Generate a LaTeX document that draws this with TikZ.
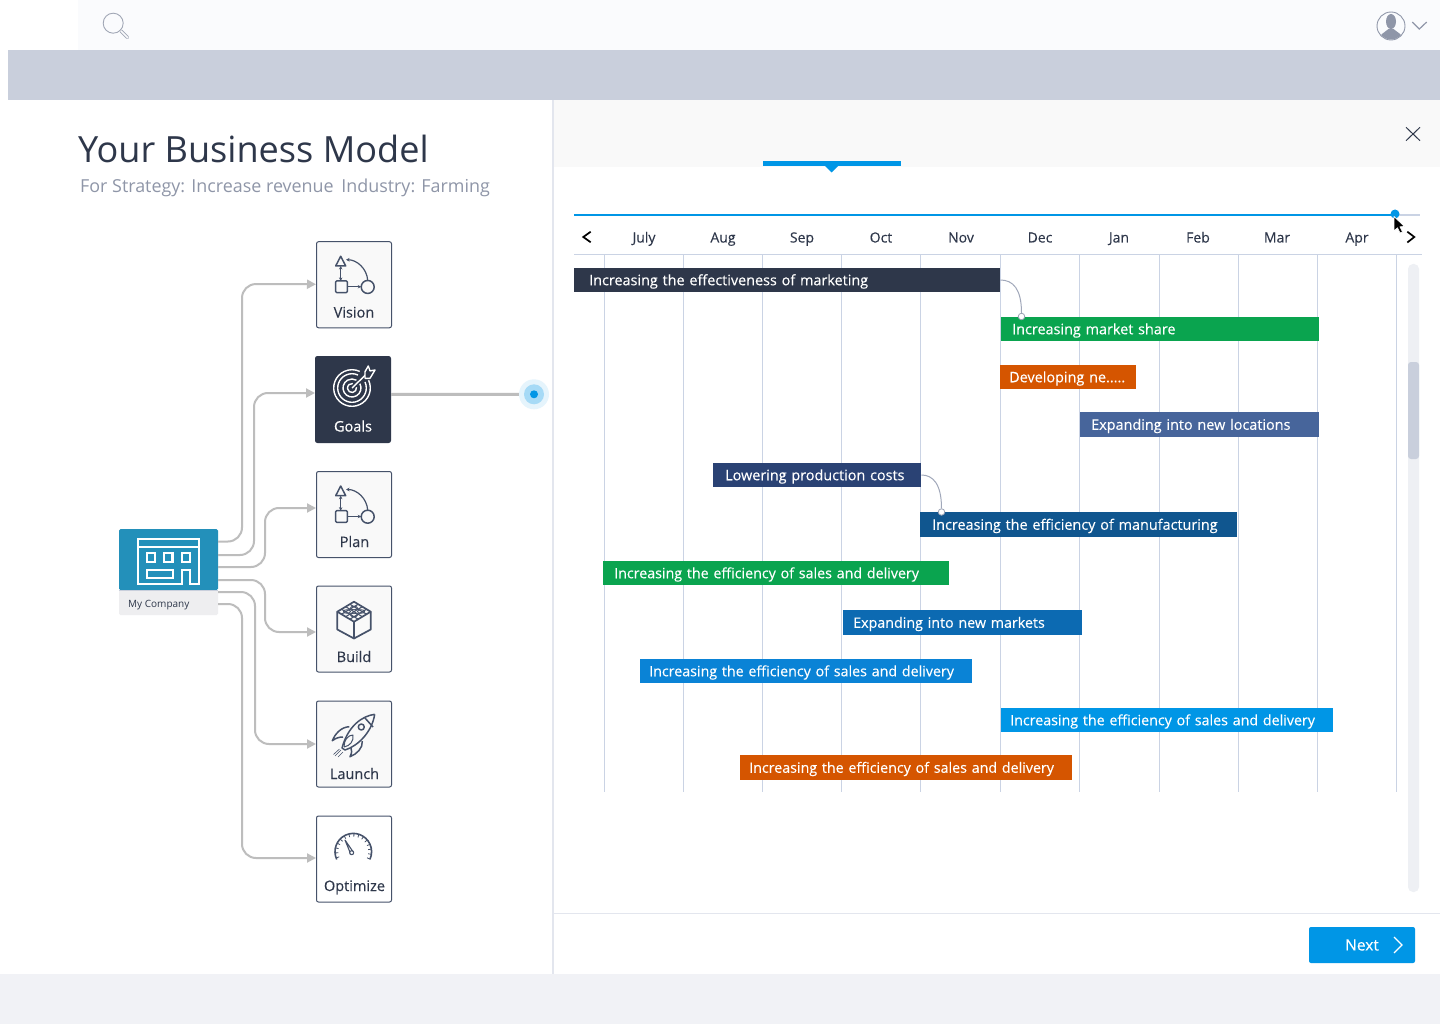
\documentclass[tikz,border=0pt]{standalone}
\usepackage{fontspec}
\setmainfont{Open Sans}
\newfontfamily\uifont[FakeBold=0.2]{Open Sans}
\usetikzlibrary{arrows.meta,calc}
\definecolor{inkc}{HTML}{2E374A}
\definecolor{iconc}{HTML}{46526A}
\definecolor{bandc}{HTML}{C9CFDC}
\definecolor{topc}{HTML}{FAFBFD}
\definecolor{footc}{HTML}{F1F2F6}
\definecolor{tagc}{HTML}{EEEEF0}
\definecolor{headc}{HTML}{F9F9F9}
\definecolor{panelc}{HTML}{E3E6EE}
\definecolor{flowc}{HTML}{BDBDBD}
\definecolor{skyc}{HTML}{0096E6}
\definecolor{gridc}{HTML}{CAD3E4}
\definecolor{softc}{HTML}{8F96A8}
\definecolor{greenc}{HTML}{0AA44F}
\definecolor{orangec}{HTML}{D55500}
\definecolor{steelc}{HTML}{47659B}
\definecolor{navyc}{HTML}{2A4274}
\definecolor{oceanc}{HTML}{10568F}
\definecolor{royalc}{HTML}{0C6AB2}
\definecolor{azurec}{HTML}{0A83D6}
\definecolor{tealc}{HTML}{2390BA}
\tikzset{
  flow/.style={draw=flowc, line width=2pt, rounded corners=14pt, -{Triangle[length=9pt,width=9pt]}},
  stagebox/.style={draw=iconc, fill=headc, line width=1pt, rounded corners=2pt, minimum width=75pt, minimum height=86pt, inner sep=0pt},
  stagetxt/.style={anchor=base, inner sep=0pt, text=inkc, font=\uifont\fontsize{14.5}{17}\selectfont},
  monthtxt/.style={anchor=base, inner sep=0pt, text=inkc, font=\uifont\fontsize{14}{17}\selectfont},
  taskbar/.style n args={3}{anchor=west, fill=#1, text=white, inner xsep=0pt, inner ysep=0pt, text width=#2pt, align=left,
    minimum height=24.5pt, text height=12.5pt, text depth=2pt, font=\uifont\fontsize{14.4}{17}\selectfont, execute at begin node={\hspace*{#3pt}}},
  salestxt/.style={font=\uifont\fontsize{14.26}{17}\selectfont},
  taskdot/.style={circle, draw=softc!80!gridc, fill=white, line width=.8pt, inner sep=0pt, minimum size=6.5pt},
  tasklink/.style={draw=softc!70!gridc, line width=1pt},
  gridline/.style={draw=gridc, line width=1pt},
  iconline/.style={draw=iconc, line width=1.5pt, line join=round},
  whiteline/.style={draw=white, line width=1.4pt},
  officeline/.style={draw=white, line width=2.3pt},
  >={Stealth[length=3.5pt,width=3.5pt]},
  flowicon/.pic={
    \draw[iconline] (-13.3,-28.5) -- (-8.3,-18.8) -- (-18.3,-18.8) -- cycle;
    \draw[iconline, rounded corners=1pt] (-18.3,-3.8) rectangle (-6.7,7.8);
    \draw[iconline] (13.7,2.2) circle[radius=6.5];
    \draw[iconline, line width=1.2pt, <->] (-13.3,-18.8) -- (-13.3,-3.8);
    \draw[iconline, line width=1.2pt, ->] (-6.7,2) -- (7.2,2);
    \draw[iconline, line width=1.2pt, ->] (13.7,-4.3) .. controls (13,-16) and (3,-25) .. (-8,-25);
  },
  targeticon/.pic={
    \draw[whiteline] (-1,-11.5) ++(-25:18.3) arc[start angle=-25, end angle=295, radius=18.3];
    \draw[whiteline] (-1,-11.5) ++(-25:14.3) arc[start angle=-25, end angle=295, radius=14.3];
    \draw[whiteline] (-1,-11.5) ++(-30:9) arc[start angle=-30, end angle=300, radius=9];
    \draw[whiteline] (-1,-11.5) ++(-10:4.5) arc[start angle=-10, end angle=280, radius=4.5];
    \draw[draw=inkc, line width=4pt] (-1,-11.5) -- (13.5,-25.5);
    \draw[whiteline] (-1,-11.5) -- (13.5,-25.5);
    \draw[whiteline, fill=inkc, line join=round] (12,-27.8) -- (15.3,-33.5) -- (17,-28.6) -- (22,-29.5) -- (17,-21.2) -- (12,-21.2) -- cycle;
  },
  cubeicon/.pic={
    \draw[iconline, line width=1.7pt] (0,-27.3) -- (16.7,-17.3) -- (0,-7.3) -- (-16.7,-17.3) -- cycle;
    \draw[iconline, line width=1.7pt] (-16.7,-17.3) -- (-16.7,0.5) -- (0,9.5) -- (16.7,0.5) -- (16.7,-17.3);
    \draw[iconline, line width=1.7pt] (0,-7.3) -- (0,9.5);
    \foreach \t in {.25,.5,.75} {
      \draw[iconline, line width=1.1pt] ($(0,-27.3)!\t!(16.7,-17.3)$) -- ($(-16.7,-17.3)!\t!(0,-7.3)$);
      \draw[iconline, line width=1.1pt] ($(0,-27.3)!\t!(-16.7,-17.3)$) -- ($(16.7,-17.3)!\t!(0,-7.3)$);
    }
    \draw[iconline, line width=.9pt] (0,-21) ellipse[x radius=3.5, y radius=1.8];
    \draw[iconline, line width=.9pt] (0,-14) ellipse[x radius=3.5, y radius=1.8];
    \draw[iconline, line width=.9pt] (-7,-17.5) ellipse[x radius=3.5, y radius=1.8];
    \draw[iconline, line width=.9pt] (7,-17.5) ellipse[x radius=3.5, y radius=1.8];
  },
  rocketicon/.pic={
    \draw[iconline] (20.7,-29.7) .. controls (8,-28) and (-6,-18) .. (-12,4) -- (-9,6) .. controls (4,2) and (18,-12) .. (20.7,-29.7);
    \draw[iconline] (11,-26) -- (19,-17);
    \draw[iconline] (7.3,-17) circle[radius=3];
    \draw[iconline] (-4.7,-17.3) .. controls (-13,-17) and (-19,-10) .. (-21.7,-3.3) .. controls (-18,-6) and (-15,-7) .. (-11,-7);
    \draw[iconline] (8.3,-3) .. controls (9,4) and (3,10) .. (-4,12.7) .. controls (-2,9) and (-2,6) .. (-3,4);
    \draw[iconline, line width=1pt] (-10,3) .. controls (-10,-4) and (-6,-9) .. (-1,-9) .. controls (0,-3) and (-4,2) .. (-10,3);
    \draw[iconline, line width=.6pt] (-13,6) -- (-19,12) (-11,8) -- (-16,13) (-14.5,5) -- (-20.5,10.5);
  },
  gaugeicon/.pic={
    \draw[iconline, line width=1.6pt] (-0.7,-7.3) ++(155:18.3) arc[start angle=155, end angle=385, radius=18.3];
    \foreach \a in {160,176,...,385}
      \draw[iconline, line width=.8pt] (-0.7,-7.3) ++(\a:15) -- ++(\a:3);
    \draw[iconline, fill=white, line width=1.1pt] (-1,-7.3) -- (-9,-19) -- (-3.5,-5.5) -- cycle;
    \draw[iconline, fill=white, line width=1.1pt] (-2.3,-6.3) circle[radius=2];
  },
  officeicon/.pic={
    \draw[officeline] (181.7,584) -- (138.3,584) -- (138.3,539) -- (199.3,539) -- (199.3,584) -- (190,584) -- (190,570) -- (181.7,570) -- cycle;
    \draw[officeline] (138.3,547.3) -- (199.3,547.3);
    \foreach \x in {146.7,164,181.7}
      \draw[officeline] (\x,553.3) rectangle ++(8.5,9);
    \draw[officeline] (146.7,570) rectangle (172.7,578.3);
  }
}
\begin{document}
\begin{tikzpicture}[x=1pt, y=-1pt]
\useasboundingbox (0,0) rectangle (1440,1024);
\fill[white] (0,0) rectangle (1440,1024);
\fill[topc] (78,0) rectangle (1440,50);
\fill[bandc] (8,50) rectangle (1440,100);
\fill[footc] (0,974) rectangle (1440,1024);
\fill[headc] (554,100) rectangle (1440,167);
\fill[panelc] (552,100) rectangle (554,974);
\fill[panelc] (554,913) rectangle (1440,914);

\draw[softc!85!white, line width=.9pt] (113.2,23.2) circle[radius=10];
\draw[softc!85!white, line width=3.2pt, line cap=round] (121,31) -- (127.5,37.5);
\draw[topc, line width=1.6pt, line cap=round] (121,31) -- (127.5,37.5);
\begin{scope}
\clip (1391,26) circle[radius=13.5];
\fill[softc] (1391,21.5) ellipse[x radius=5, y radius=7.5];
\fill[softc] (1378,42) .. controls (1379,34) and (1384,33) .. (1388.5,29) -- (1393.5,29) .. controls (1398,33) and (1403,34) .. (1404,42) -- cycle;
\end{scope}
\draw[softc, line width=.9pt] (1391,26) circle[radius=14];
\draw[softc, line width=1.2pt] (1412.3,22) -- (1419.3,29) -- (1426.7,22);

\node[anchor=base west, inner sep=0pt, text=inkc, font=\fontsize{36.1}{44}\selectfont] (title) at (78,163) {Your Business Model};
\node[anchor=base west, inner sep=0pt, text=softc, font=\fontsize{17.9}{23}\selectfont] (subtitle) at (80,192.5) {For Strategy: Increase revenue\hspace{3pt} Industry: Farming};

\node[stagebox] (vision) at (354,284.75) {};
\node[stagebox, fill=inkc, draw=inkc] (goals) at (353,399.5) {};
\node[stagebox] (plan) at (354,514.5) {};
\node[stagebox] (build) at (354,629) {};
\node[stagebox] (launch) at (354,744) {};
\node[stagebox, fill=white] (optimize) at (354,859) {};
\node[stagetxt] (visiontxt) at (354,317.5) {Vision};
\node[stagetxt, text=white] (goalstxt) at (353,431.5) {Goals};
\node[stagetxt] (plantxt) at (354.5,547) {Plan};
\node[stagetxt] (buildtxt) at (354,662) {Build};
\node[stagetxt] (launchtxt) at (354.5,779) {Launch};
\node[stagetxt] (optimizetxt) at (354.5,891) {Optimize};
\pic at (vision.center) {flowicon};
\pic at (goals.center) {targeticon};
\pic at (plan.center) {flowicon};
\pic at (build.center) {cubeicon};
\pic at (launch.center) {rocketicon};
\pic at (optimize.center) {gaugeicon};

\node[fill=tagc, rounded corners=1.5pt, minimum width=99pt, minimum height=25pt, inner sep=0pt] (companytag) at (168.5,602.5) {};
\node[fill=tealc, rounded corners=1.5pt, minimum width=99pt, minimum height=61pt, inner sep=0pt] (company) at (168.5,559.5) {};
\draw[bandc, line width=1pt] (company.south west) -- (company.south east);
\node[anchor=base west, inner sep=0pt, text=inkc, font=\fontsize{10}{12}\selectfont] (companytxt) at (128,607) {My Company};
\pic at (0,0) {officeicon};

\coordinate (o1) at (218,541.5);
\coordinate (o2) at (218,555);
\coordinate (o3) at (218,567);
\coordinate (o4) at (218,580);
\coordinate (o5) at (218,592);
\coordinate (o6) at (218,604);
\draw[flow] (o1) -- (242,541.5) -- (242,284) -- ([yshift=.5pt]vision.west);
\draw[flow] (o2) -- (254,555) -- (254,393) -- ([yshift=6.5pt]goals.west);
\draw[flow] (o3) -- (265,567) -- (265,508) -- ([yshift=6.5pt]plan.west);
\draw[flow] (o4) -- (265,580) -- (265,632) -- ([yshift=-3pt]build.west);
\draw[flow] (o5) -- (255,592) -- (255,744) -- (launch.west);
\draw[flow] (o6) -- (242,604) -- (242,858) -- ([yshift=1pt]optimize.west);

\node[circle, fill=skyc!10, minimum size=30pt, inner sep=0pt] (pulse) at (534,394.3) {};
\node[circle, fill=skyc!35, minimum size=20pt, inner sep=0pt] (pulsemid) at (534,394.3) {};
\node[circle, fill=skyc, minimum size=8pt, inner sep=0pt] (pulsecore) at (534,394.3) {};
\draw[flowc, line width=3pt] ([yshift=5pt]goals.east) -- (pulse.west);

\draw[inkc, line width=1pt] (1406,127.3) -- (1420,140.7) (1420,127.3) -- (1406,140.7);
\fill[skyc] (763,161) rectangle (901,166);
\fill[skyc] (825,166) -- (831.5,172.5) -- (838,166) -- cycle;

\draw[gridc, line width=2pt] (1395,215) -- (1420,215);
\draw[skyc, line width=2pt] (574,215) -- (1395,215);
\fill[skyc] (1395,214) circle[radius=4.5];
\draw[black, line width=1.7pt] (590.7,231.7) -- (583.3,237) -- (590.7,242.3);
\draw[gridline] (574,254.5) -- (1422,254.5);
\foreach \x/\m in {644/July,723/Aug,802/Sep,881/Oct,961/Nov,1040/Dec,1119/Jan,1198/Feb,1277/Mar,1357/Apr}
  \node[monthtxt] (\m) at (\x,242.5) {\m};
\foreach \x in {604.5,683.5,762.5,841.5,920.5,1000.5,1079.5,1159,1238,1317.5,1396.5}
  \draw[gridline] (\x,254.5) -- (\x,792);

\fill[footc!80!panelc, rounded corners=5pt] (1408,264) rectangle (1419,892);
\fill[bandc, rounded corners=3pt] (1408,362) rectangle (1419,459);

\node[taskbar={inkc}{426}{15}] (t1) at (574,280) {Increasing the effectiveness of marketing};
\node[taskbar={greenc}{318}{11}] (t2) at (1001,329) {Increasing market share};
\node[taskbar={orangec}{136}{9}] (t3) at (1000,377) {Developing ne.....};
\node[taskbar={steelc}{239}{11}] (t4) at (1080,424.5) {Expanding into new locations};
\node[taskbar={navyc}{208}{12}] (t5) at (713,475) {Lowering production costs};
\node[taskbar={oceanc}{317}{12}] (t6) at (920,524.5) {Increasing the efficiency of manufacturing};
\node[taskbar={greenc}{346}{11}, salestxt] (t7) at (603,573) {Increasing the efficiency of sales and delivery};
\node[taskbar={royalc}{239}{10}, salestxt] (t8) at (843,622.5) {Expanding into new markets};
\node[taskbar={azurec}{332}{9}, salestxt] (t9) at (640,671) {Increasing the efficiency of sales and delivery};
\node[taskbar={skyc}{332}{9}, salestxt] (t10) at (1001,720) {Increasing the efficiency of sales and delivery};
\node[taskbar={orangec}{332}{9}, salestxt] (t11) at (740,767.5) {Increasing the efficiency of sales and delivery};

\node[taskdot] (d1) at (1021.5,316.5) {};
\node[taskdot] (d2) at (941.5,512) {};
\draw[tasklink] (t1.east) .. controls (1013,280) and (1021.5,289) .. (d1.north);
\draw[tasklink] (t5.east) .. controls (933,475) and (941.5,484) .. (d2.north);

\draw[black, fill=black, line join=round, draw=white, line width=.7pt] (1394,216.5) -- (1394,231) -- (1397.5,227.8) -- (1400,233) -- (1402.5,232) -- (1400,226.8) -- (1404.5,226.5) -- cycle;
\draw[black, line width=1.7pt] (1407.3,231.7) -- (1414.3,237) -- (1407.3,242.5);

\node[fill=skyc, rounded corners=2pt, minimum width=106pt, minimum height=36pt, inner sep=0pt, text=white, font=\uifont\fontsize{15.5}{18}\selectfont] (next) at (1362,945) {Next};
\draw[white, line width=1.3pt] (1394,937) -- (1402,945) -- (1394,953);
\end{tikzpicture}
\end{document}
